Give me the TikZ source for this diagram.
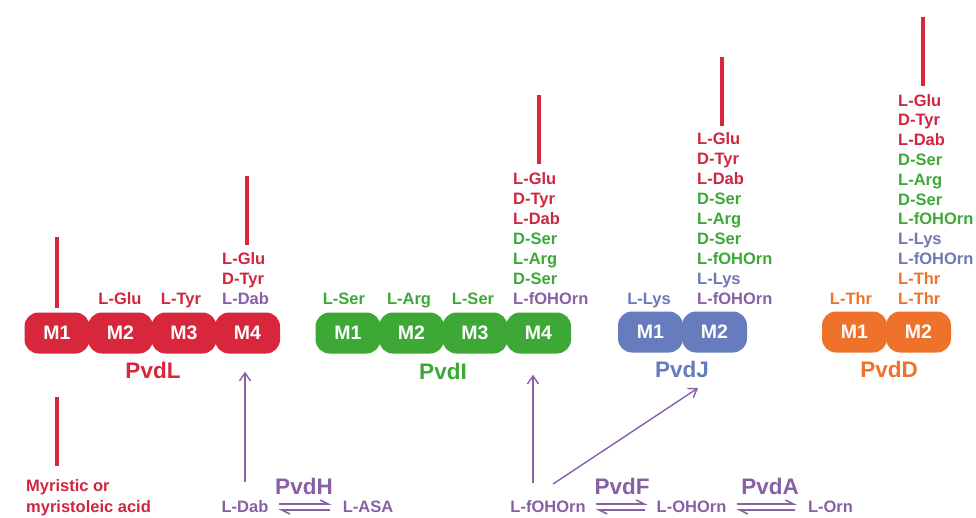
\documentclass[tikz,border=0pt]{standalone}
\usepackage{fontspec}
\setmainfont{Liberation Sans}
\usetikzlibrary{arrows.meta}
\definecolor{cred}{RGB}{216,38,60}
\definecolor{cgreen}{RGB}{62,168,55}
\definecolor{cblue}{RGB}{102,124,188}
\definecolor{corange}{RGB}{238,114,42}
\definecolor{cpurple}{RGB}{136,96,166}
\definecolor{tred}{RGB}{206,38,64}
\definecolor{tblue}{RGB}{110,120,180}
\begin{document}
\begin{tikzpicture}[x=1pt,y=-1pt,
  mod/.style={fill=#1, draw=none, rounded corners=14pt, minimum width=65pt,
    minimum height=41pt, inner sep=0pt, text=white,
    font=\bfseries\fontsize{19.5}{19.5}\selectfont},
  lab/.style={text=#1, font=\bfseries\fontsize{16.5}{20}\selectfont,
    inner sep=0pt, text height=12pt, text depth=0pt},
  pvd/.style={text=#1, font=\bfseries\fontsize{22.5}{24}\selectfont,
    inner sep=0pt, text height=16pt, text depth=0pt},
  chain/.style={draw=cred, line width=4.8pt},
  parrow/.style={draw=cpurple, line width=1.4pt,
    -{Straight Barb[length=8pt,width=11pt,line width=1.4pt]}},
  eqarrow/.style={draw=cpurple, line width=1.8pt,
    -{Straight Barb[harpoon,length=8pt,width=8pt,line width=1.6pt]}}
]
\useasboundingbox (0,0) rectangle (976,517);

% ---------- PvdL ----------
\node[mod=cred] (L1) at (57,333) {M1};
\node[mod=cred] (L2) at (120.5,333) {M2};
\node[mod=cred] (L3) at (184,333) {M3};
\node[mod=cred] (L4) at (247.5,333) {M4};
\node[pvd=cred] (pvdL) at (153,370) {PvdL};
\node[lab=tred] (lglu) at (120,298) {L-Glu};
\node[lab=tred] (ltyr) at (181,298) {L-Tyr};
\foreach \t/\c [count=\i] in {L-Glu/tred, D-Tyr/tred, L-Dab/cpurple}
  \node[lab=\c, anchor=west] (sL\i) at (222,{258+20*(\i-1)}) {\t};

% ---------- PvdI ----------
\node[mod=cgreen] (I1) at (348,333) {M1};
\node[mod=cgreen] (I2) at (411.5,333) {M2};
\node[mod=cgreen] (I3) at (475,333) {M3};
\node[mod=cgreen] (I4) at (538.5,333) {M4};
\node[pvd=cgreen] (pvdI) at (443,371) {PvdI};
\node[lab=cgreen] (iser1) at (344,298) {L-Ser};
\node[lab=cgreen] (iarg) at (409,298) {L-Arg};
\node[lab=cgreen] (iser2) at (473,298) {L-Ser};
\foreach \t/\c [count=\i] in {L-Glu/tred, D-Tyr/tred, L-Dab/tred, D-Ser/cgreen,
    L-Arg/cgreen, D-Ser/cgreen, L-fOHOrn/cpurple}
  \node[lab=\c, anchor=west] (sI\i) at (513,{178+20*(\i-1)}) {\t};

% ---------- PvdJ ----------
\node[mod=cblue] (J1) at (650.5,332) {M1};
\node[mod=cblue] (J2) at (714.5,332) {M2};
\node[pvd=cblue] (pvdJ) at (682,369) {PvdJ};
\node[lab=tblue] (jlys) at (649,298) {L-Lys};
\foreach \t/\c [count=\i] in {L-Glu/tred, D-Tyr/tred, L-Dab/tred, D-Ser/cgreen,
    L-Arg/cgreen, D-Ser/cgreen, L-fOHOrn/cgreen, L-Lys/tblue, L-fOHOrn/cpurple}
  \node[lab=\c, anchor=west] (sJ\i) at (697,{138+20*(\i-1)}) {\t};

% ---------- PvdD ----------
\node[mod=corange] (D1) at (854.5,332) {M1};
\node[mod=corange] (D2) at (918.5,332) {M2};
\node[pvd=corange] (pvdD) at (889,369) {PvdD};
\node[lab=corange] (dthr) at (851,298) {L-Thr};
\foreach \t/\c [count=\i] in {L-Glu/tred, D-Tyr/tred, L-Dab/tred, D-Ser/cgreen,
    L-Arg/cgreen, D-Ser/cgreen, L-fOHOrn/cgreen, L-Lys/tblue, L-fOHOrn/tblue,
    L-Thr/corange, L-Thr/corange}
  \node[lab=\c, anchor=west] (sD\i) at (898,{100+19.8*(\i-1)}) {\t};

% ---------- fatty acid chains ----------
\draw[chain] (57,237) -- (57,308);
\draw[chain] (247,176) -- (247,245);
\draw[chain] (539,95) -- (539,164);
\draw[chain] (722,57) -- (722,126);
\draw[chain] (923,17) -- (923,86);
\draw[chain] (57,397) -- (57,466);

% ---------- bottom ----------
\node[lab=tred, anchor=west] (myr1) at (26,485) {Myristic or};
\node[lab=tred, anchor=west] (myr2) at (26,506) {myristoleic acid};

\node[lab=cpurple] (dab) at (245,506) {L-Dab};
\node[lab=cpurple] (asa) at (368,506) {L-ASA};
\node[pvd=cpurple] (pvdH) at (304,486) {PvdH};

\node[lab=cpurple] (fohorn) at (548,506) {L-fOHOrn};
\node[lab=cpurple] (ohorn) at (691.5,506) {L-OHOrn};
\node[lab=cpurple] (orn) at (830.5,506) {L-Orn};
\node[pvd=cpurple] (pvdF) at (622,486) {PvdF};
\node[pvd=cpurple] (pvdA) at (770,486) {PvdA};

% arrows to modules
\draw[parrow, shorten <=18pt, shorten >=18pt] (dab.north) -- (dab.north |- L4.south);
\draw[parrow, shorten <=17pt, shorten >=21pt] ([xshift=-15pt]fohorn.north) -- ([xshift=-15pt]fohorn.north |- I4.south);
\coordinate (dg1) at (553,484);
\coordinate (dg2) at (698,388);
\draw[parrow] (dg1) -- (dg2);

% equilibria
\draw[eqarrow] ([xshift=10pt,yshift=2pt]dab.east) -- ([xshift=-11pt,yshift=2pt]asa.west);
\draw[eqarrow] ([xshift=-13pt,yshift=-4pt]asa.west) -- ([xshift=10pt,yshift=-4pt]dab.east);
\draw[eqarrow] ([xshift=10pt,yshift=2pt]fohorn.east) -- ([xshift=-9pt,yshift=2pt]ohorn.west);
\draw[eqarrow] ([xshift=-11pt,yshift=-4pt]ohorn.west) -- ([xshift=10pt,yshift=-4pt]fohorn.east);
\draw[eqarrow] ([xshift=10pt,yshift=2pt]ohorn.east) -- ([xshift=-11pt,yshift=2pt]orn.west);
\draw[eqarrow] ([xshift=-13pt,yshift=-4pt]orn.west) -- ([xshift=10pt,yshift=-4pt]ohorn.east);
\end{tikzpicture}
\end{document}
